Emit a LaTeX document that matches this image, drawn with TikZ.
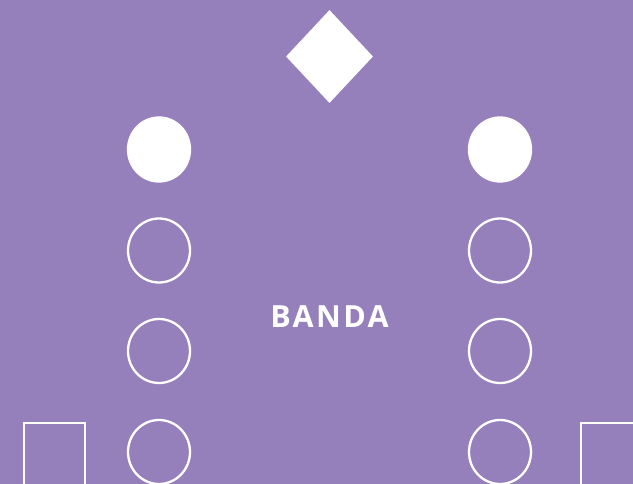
\documentclass[tikz,border=0pt]{standalone}
\usepackage{fontspec}
\setsansfont{Open Sans}
\usetikzlibrary{shapes.geometric,positioning}
\definecolor{bandbg}{RGB}{149,128,188}

\begin{document}
\begin{tikzpicture}[x=1pt, y=-1pt,
    seat/.style={ellipse, draw=white, line width=2.3pt, minimum width=62pt,
        minimum height=64pt, inner sep=0pt},
    seatfull/.style={seat, fill=white},
    standbox/.style={rectangle, draw=white, line width=2.3pt, minimum width=61pt,
        minimum height=80pt, inner sep=0pt, anchor=north west},
    leader/.style={diamond, fill=white, minimum width=87pt, minimum height=93pt,
        inner sep=0pt}
]
    \fill[bandbg] (0,0) rectangle (633,484);
    \useasboundingbox (0,0) rectangle (633,484);

    % conductor
    \node[leader] (cond) at (329.5,56.5) {};

    % left row of seats
    \node[seatfull] (l1) at (159,149.5) {};
    \node[seat] (l2) at (159,250.5) {};
    \node[seat] (l3) at (159,351) {};
    \node[seat] (l4) at (159,452) {};

    % right row of seats
    \node[seatfull] (r1) at (500,149.5) {};
    \node[seat] (r2) at (500,250.5) {};
    \node[seat] (r3) at (500,351) {};
    \node[seat] (r4) at (500,452) {};

    % stands at the bottom
    \node[standbox] (lbox) at (23,421.5) {};
    \node[standbox] (rbox) at (580,421.5) {};

    \node[font={\sffamily\bfseries\fontsize{30.5}{36}\selectfont\addfontfeature{LetterSpace=8}},
        text=white] (band) at (329.5,316.5) {BANDA};
\end{tikzpicture}
\end{document}
